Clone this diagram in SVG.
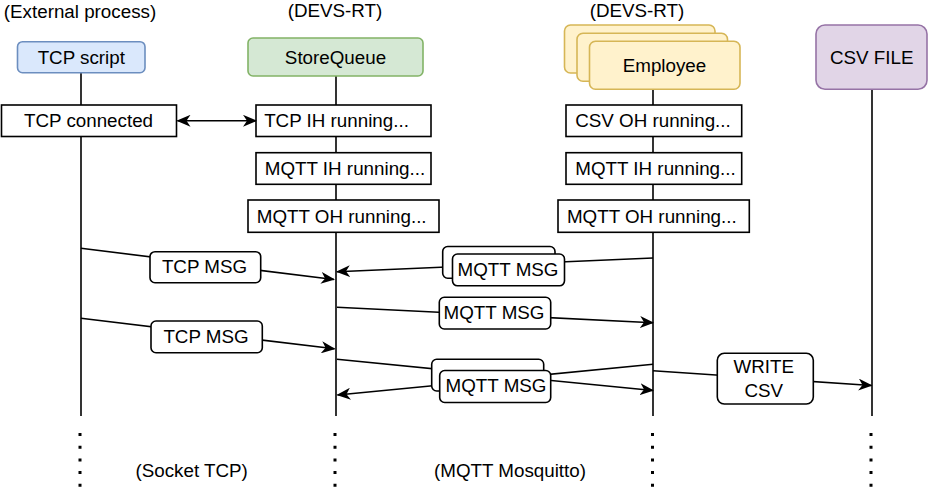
<svg xmlns="http://www.w3.org/2000/svg" width="928" height="487" viewBox="0 0 928 487">
<style>
text{font-family:"Liberation Sans",Arial,Helvetica,sans-serif;font-size:18.8px;fill:#000;text-anchor:middle}
.life{stroke:#000;stroke-width:1.6;fill:none}
.dots{stroke:#000;stroke-width:3;stroke-dasharray:3 9.7;fill:none}
.box{fill:#fff;stroke:#000;stroke-width:1.6}
.msg{stroke:#000;stroke-width:1.6;fill:none;marker-end:url(#arr)}
.lbl{fill:#fff;stroke:#000;stroke-width:1.6}
</style>
<defs>
<marker id="arr" markerUnits="userSpaceOnUse" viewBox="0 0 14 12" refX="13" refY="6" markerWidth="14" markerHeight="12" orient="auto-start-reverse">
<path d="M0,0 L14,6 L0,12 L4,6 Z" fill="#000"/>
</marker>
</defs>
<rect width="928" height="487" fill="#fff"/>

<g id="tcp-script">
<text x="80" y="18">(External process)</text>
<line class="life" x1="81" y1="72" x2="81" y2="416"/>
<line class="dots" x1="80" y1="433" x2="80" y2="487"/>
<rect x="17.5" y="41.7" width="127.5" height="31" rx="5" fill="#dae8fc" stroke="#6c8ebf" stroke-width="1.6"/>
<text x="81.3" y="63.8">TCP script</text>
</g>

<g id="storequeue">
<text x="335" y="16.5">(DEVS-RT)</text>
<line class="life" x1="336" y1="76" x2="336" y2="416"/>
<line class="dots" x1="335" y1="433" x2="335" y2="487"/>
<rect x="248" y="38" width="175" height="38" rx="5" fill="#d5e8d4" stroke="#82b366" stroke-width="1.6"/>
<text x="335.5" y="63.6">StoreQueue</text>
</g>

<g id="employee">
<text x="637" y="16.5">(DEVS-RT)</text>
<line class="life" x1="653" y1="89" x2="653" y2="416"/>
<line class="dots" x1="652.5" y1="433" x2="652.5" y2="487"/>
<rect x="564.5" y="25" width="150.5" height="48" rx="6" fill="#fff2cc" stroke="#d6b656" stroke-width="1.6"/>
<rect x="577" y="33.2" width="150.5" height="48" rx="6" fill="#fff2cc" stroke="#d6b656" stroke-width="1.6"/>
<rect x="589.5" y="41.3" width="150.5" height="48" rx="6" fill="#fff2cc" stroke="#d6b656" stroke-width="1.6"/>
<text x="664.5" y="72">Employee</text>
</g>

<g id="csv-file">
<line class="life" x1="872" y1="89" x2="872" y2="416"/>
<line class="dots" x1="871" y1="433" x2="871" y2="487"/>
<rect x="816" y="25" width="111" height="64.3" rx="9" fill="#e1d5e7" stroke="#9673a6" stroke-width="1.6"/>
<text x="871.7" y="63.8">CSV FILE</text>
</g>

<g id="tcp-connected">
<rect class="box" x="1.5" y="105" width="175" height="31.5"/>
<text x="88.5" y="127.4">TCP connected</text>
</g>
<g id="sq-tcp-ih">
<rect class="box" x="256" y="105" width="175" height="31.5"/>
<text x="336.5" y="127.4">TCP IH running...</text>
</g>
<g id="sq-mqtt-ih">
<rect class="box" x="256" y="152.7" width="175" height="31.6"/>
<text x="345" y="175.1">MQTT IH running...</text>
</g>
<g id="sq-mqtt-oh">
<rect class="box" x="248" y="200" width="191" height="32.3"/>
<text x="341.7" y="222.8">MQTT OH running...</text>
</g>
<g id="emp-csv-oh">
<rect class="box" x="566" y="105" width="175.7" height="31.5"/>
<text x="653" y="127.4">CSV OH running...</text>
</g>
<g id="emp-mqtt-ih">
<rect class="box" x="566" y="152.7" width="175.7" height="31.6"/>
<text x="655.5" y="175.1">MQTT IH running...</text>
</g>
<g id="emp-mqtt-oh">
<rect class="box" x="558" y="200" width="191.3" height="32.3"/>
<text x="651.8" y="222.8">MQTT OH running...</text>
</g>

<g id="connectors">
<line class="msg" x1="177.5" y1="120.8" x2="256" y2="120.8" marker-start="url(#arr)"/>

<line class="msg" x1="81" y1="248.3" x2="334" y2="279.5"/>
<rect class="lbl" x="150" y="251.7" width="110.7" height="31" rx="5"/>
<text x="204.5" y="272.7">TCP MSG</text>

<line class="msg" x1="653" y1="258" x2="337" y2="271.7"/>
<rect class="lbl" x="442.7" y="246.5" width="112.3" height="31.7" rx="5"/>
<rect class="lbl" x="452.5" y="254" width="112" height="31.8" rx="5"/>
<text x="508" y="276">MQTT MSG</text>

<line class="msg" x1="337" y1="307.3" x2="653" y2="322.7"/>
<rect class="lbl" x="439.3" y="297.3" width="111.4" height="31.7" rx="5"/>
<text x="494" y="319.3">MQTT MSG</text>

<line class="msg" x1="81" y1="318.3" x2="334.5" y2="348.8"/>
<rect class="lbl" x="151" y="321" width="111.3" height="31.7" rx="5"/>
<text x="206" y="343.3">TCP MSG</text>

<line class="msg" x1="337" y1="359.3" x2="653" y2="390.5"/>
<line class="msg" x1="653" y1="364.3" x2="337.5" y2="395"/>
<rect class="lbl" x="431.7" y="359.3" width="112" height="31.7" rx="5"/>
<rect class="lbl" x="439.7" y="370.5" width="111" height="32" rx="5"/>
<text x="496" y="391.7">MQTT MSG</text>

<line class="msg" x1="653" y1="370.7" x2="871.5" y2="385.5"/>
<rect class="lbl" x="717.3" y="353.3" width="96" height="50.7" rx="7"/>
<text x="763.7" y="373.3">WRITE</text>
<text x="763.7" y="396.7">CSV</text>
</g>

<g id="bottom-labels">
<text x="191.7" y="476.5">(Socket TCP)</text>
<text x="510" y="476.5">(MQTT Mosquitto)</text>
</g>
</svg>
